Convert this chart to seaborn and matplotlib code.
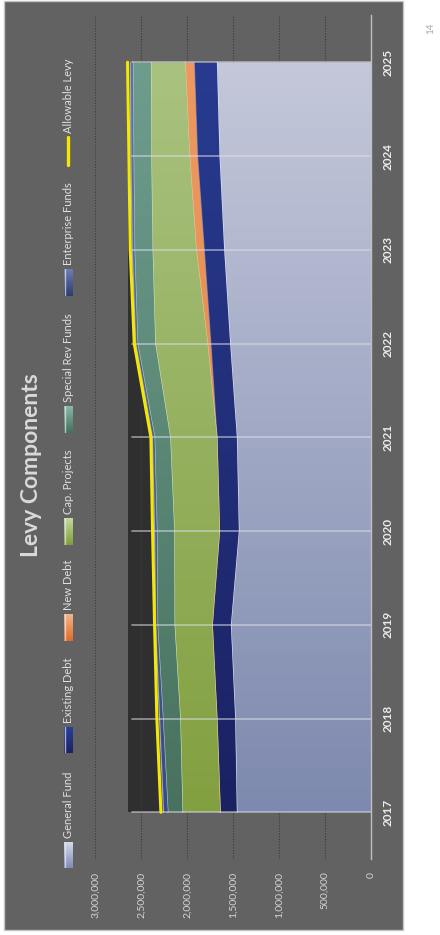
import numpy as np
import pandas as pd
import matplotlib
matplotlib.use("Agg")
import matplotlib.pyplot as plt
from matplotlib.colors import LinearSegmentedColormap
from matplotlib.patches import Rectangle
from matplotlib.lines import Line2D
import seaborn as sns

# ---------------- data ----------------
years = [2017, 2018, 2019, 2020, 2021, 2022, 2023, 2024, 2025]
general_fund = [1460000, 1478000, 1525000, 1438000, 1460000, 1533000, 1598000, 1649000, 1677000]
existing_debt = [181000, 199000, 203000, 211000, 217000, 210000, 217000, 239000, 247000]
new_debt = [0, 0, 0, 0, 0, 36000, 87000, 87000, 98000]
cap_projects = [410000, 399000, 410000, 492000, 508000, 569000, 475000, 416000, 373000]
special_rev = [159000, 188000, 185000, 189000, 170000, 192000, 196000, 193000, 196000]
enterprise = [48000, 37000, 22000, 25000, 25000, 22000, 25000, 28000, 29000]
allowable_levy = [2286000, 2330000, 2355000, 2377000, 2395000, 2576000, 2620000, 2634000, 2649000]
levy_capacity = [2645000] * 9
value_ticks = [0, 500000, 1000000, 1500000, 2000000, 2500000, 3000000]

series_names = ["General Fund", "Existing Debt", "New Debt", "Cap. Projects",
                "Special Rev Funds", "Enterprise Funds"]
series_vals = [general_fund, existing_debt, new_debt, cap_projects, special_rev, enterprise]
# (top colour at 2025, bottom colour at 2017, edge colour)
series_cols = [("#c4c8da", "#7d89ae", "#e2e5f2"),
               ("#283b90", "#1b2262", "#6a7bc4"),
               ("#ec9a62", "#e0803f", "#f6c29a"),
               ("#a9c27f", "#82a040", "#cfe3a8"),
               ("#6e9d8e", "#48725f", "#a9cbbd"),
               ("#6172a6", "#3b4a80", "#9aa8d0")]
legend_cols = [("#d4d8ea", "#7f8cb4"),
               ("#2c3f98", "#1b2262"),
               ("#f4b48a", "#e06a28"),
               ("#c4da9c", "#7e9e3c"),
               ("#8ab8a8", "#44705c"),
               ("#7080b4", "#2e3c70")]

df = pd.DataFrame({"year": years, "levy": allowable_levy})

# ---------------- figure ----------------
sns.set_theme(style="white")
plt.rcParams["font.family"] = ["Lato", "DejaVu Sans"]

W, H = 440, 935
fig = plt.figure(figsize=(W / 100, H / 100), dpi=100)
fig.patch.set_facecolor("white")

# outer dark panel
fig.patches.append(Rectangle((4 / W, 1 - 930 / H), 399 / W, 929 / H,
                             transform=fig.transFigure, facecolor="#626262",
                             edgecolor="#c4c4c4", linewidth=1.0, zorder=-5))

ax_l, ax_r = 95.3, 371.0
ax_t, ax_b = 15.4, 859.2
ax = fig.add_axes([ax_l / W, 1 - ax_b / H, (ax_r - ax_l) / W, (ax_b - ax_t) / H])
ax.set_facecolor("none")
ax.set_zorder(1)

yr = np.array(years, dtype=float)

# grid
for v in value_ticks[1:]:
    ax.axvline(v, color="#3a3a3a", lw=0.8, ls=(0, (1, 1.5)), zorder=0.5)

# dark background series
ax.fill_betweenx(yr, 0, np.array(levy_capacity, float), color="#2f2f2f", lw=0, zorder=1)
for v in [2250000, 2500000]:
    ax.plot([v, v], [2017, 2025], color="#3e3e3e", lw=0.7, ls=(0, (1, 1.5)), zorder=1.1)


def grad_fill(lower, upper, c_top, c_bot, edge, z):
    poly = ax.fill_betweenx(yr, lower, upper, facecolor="none", edgecolor="none", zorder=z)
    cmap = LinearSegmentedColormap.from_list("g", [c_bot, c_top])
    grad = np.linspace(0, 1, 256).reshape(-1, 1)
    im = ax.imshow(grad, cmap=cmap, aspect="auto", origin="lower",
                   extent=[0, 3000000, 2017, 2025], zorder=z, interpolation="bilinear")
    path = poly.get_paths()[0]
    im.set_clip_path(path, transform=ax.transData)
    ax.plot(upper, yr, color=edge, lw=0.9, zorder=z + 0.05)


base = np.zeros(len(years))
for i, (name, vals) in enumerate(zip(series_names, series_vals)):
    v = np.array(vals, float)
    top = base + v
    ct, cb, ce = series_cols[i]
    grad_fill(base.copy(), top, ct, cb, ce, 2 + i * 0.1)
    base = top

# category lines across the areas
for y in years:
    ax.plot([levy_capacity[0] * 0.985, 0], [y, y], color="#dcdce6", lw=1.2, alpha=0.6, zorder=3)

# allowable levy line
sns.lineplot(data=df, x="levy", y="year", orient="y", color="#f5e800", lw=2.2,
             ax=ax, zorder=4, legend=False)

ax.set_xlim(3000000, 0)
ax.set_ylim(2016.5, 2025.5)

ax.set_xticks(value_ticks)
ax.set_xticklabels([f"{v:,}" for v in value_ticks], rotation=90, color="#d4d4d4", fontsize=7.5)
ax.set_yticks(years)
ax.yaxis.tick_right()
ax.set_yticklabels([str(y) for y in years], rotation=90, color="#ececec",
                   fontsize=8.5, fontweight="bold", va="center")
ax.tick_params(axis="x", length=0, pad=9)
ax.tick_params(axis="y", length=0, pad=8)
ax.set_xlabel("")
ax.set_ylabel("")
ax.grid(False)
for s in ["top", "bottom", "left"]:
    ax.spines[s].set_visible(False)
ax.spines["right"].set_color("#c0c0c0")
ax.spines["right"].set_linewidth(1.0)

# title
fig.text(32 / W, 1 - 465 / H, "Levy Components", rotation=90, fontsize=16.5,
         fontweight="bold", color="#d9d9d9", ha="center", va="center")

# legend (rotated)
leg_items = [("General Fund", 0, 842, 868),
             ("Existing Debt", 1, 727, 753),
             ("New Debt", 2, 614, 641),
             ("Cap. Projects", 3, 518, 545),
             ("Special Rev Funds", 4, 406, 433),
             ("Enterprise Funds", 5, 269, 296),
             ("Allowable Levy", None, 137, 165)]
for label, idx, p0, p1 in leg_items:
    if idx is None:
        fig.lines.append(Line2D([68 / W, 68 / W], [1 - p1 / H, 1 - p0 / H], color="#f5e800",
                                lw=2.4, transform=fig.transFigure))
    else:
        ct, cb = legend_cols[idx]
        lax = fig.add_axes([64 / W, 1 - p1 / H, 8 / W, (p1 - p0) / H])
        lax.imshow(np.linspace(0, 1, 64).reshape(-1, 1), origin="lower", aspect="auto",
                   cmap=LinearSegmentedColormap.from_list("l", [cb, ct]),
                   extent=[0, 1, 0, 1], interpolation="bilinear")
        lax.axvline(0.12, color="#e6e8f0", lw=1.0, alpha=0.7)
        lax.set_axis_off()
    fig.text(68 / W, 1 - (p0 - 4) / H, label, rotation=90, fontsize=8,
             color="#e0e0e0", ha="center", va="bottom")

# page number
fig.text(431 / W, 1 - 28 / H, "14", rotation=90, fontsize=7, color="#a8a8a8",
         ha="center", va="center")

fig.savefig("out.png", dpi=100, facecolor="white")
